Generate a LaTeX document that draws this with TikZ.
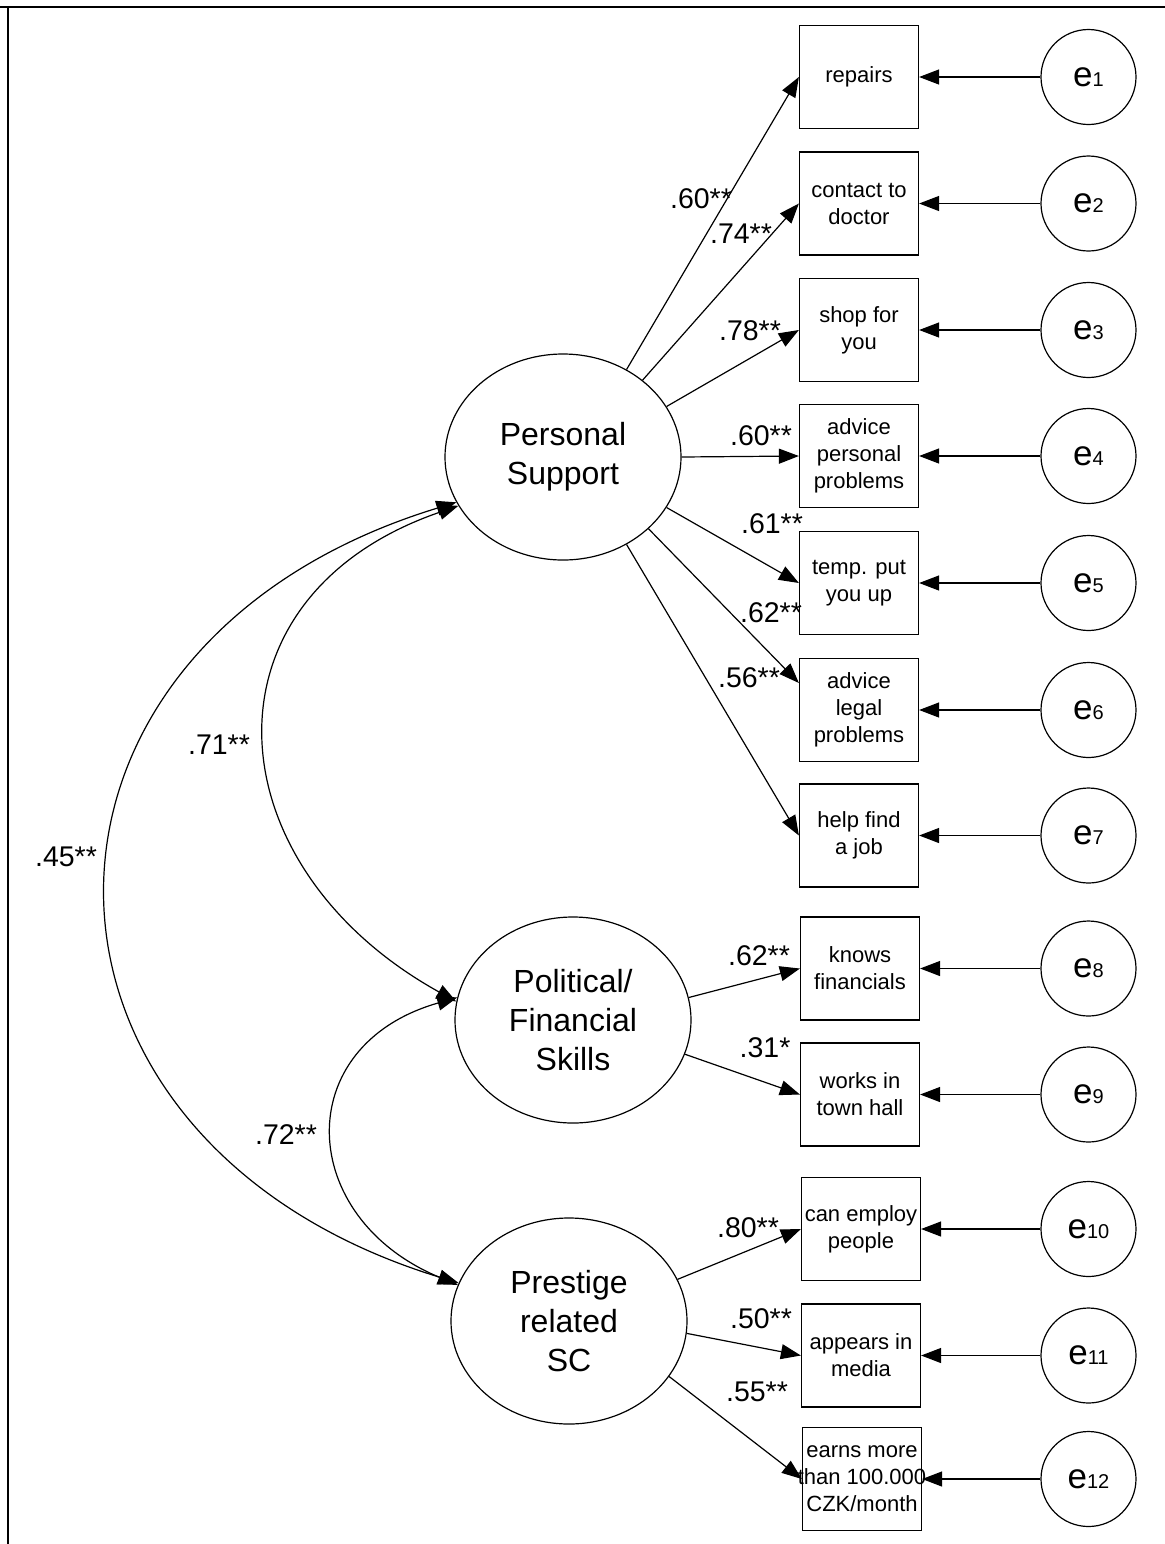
\documentclass[tikz,border=0pt]{standalone}
\usepackage{fontspec}
\setmainfont{Liberation Sans}
\usetikzlibrary{arrows.meta,shapes.geometric}
\newcommand{\errlabel}[1]{{\fontsize{17.5}{17.5}\selectfont e}{\fontsize{10}{10}\selectfont #1}}
\begin{document}
\begin{tikzpicture}[x=0.5pt,y=-0.5pt,
  line width=0.6pt,
  latent/.style={draw, ellipse, minimum width=118pt, minimum height=103pt, inner sep=0pt,
    align=center, font=\fontsize{16}{19.5}\selectfont},
  indicator/.style={draw, rectangle, minimum width=59.5pt, minimum height=51.5pt, inner sep=0pt,
    align=center, font=\fontsize{11}{13.5}\selectfont},
  errterm/.style={draw, circle, minimum size=47.5pt, inner sep=0pt},
  coef/.style={inner sep=0pt, font=\fontsize{14.25}{14.25}\selectfont},
  tip/.tip={Triangle[length=10pt,width=7.5pt]},
  load/.style={-tip},
  cov/.style={tip-tip},
]
\useasboundingbox (0,0) rectangle (1165,1544);

% frame
\draw[line width=1pt] (0,6.5) -- (1165,6.5);
\draw[line width=1pt] (8,6.5) -- (8,1544);

% latent factors
\node[latent] (ps) at (563,457)  {Personal\\Support};
\node[latent] (pf) at (573,1020) {Political/\\Financial\\Skills};
\node[latent] (pr) at (569,1321) {Prestige\\related\\SC};

% indicators
\node[indicator] (b1)  at (859,77)     {repairs};
\node[indicator] (b2)  at (859,203.5)  {contact to\\doctor};
\node[indicator] (b3)  at (859,330)    {shop for\\you};
\node[indicator] (b4)  at (859,456)    {advice\\personal\\problems};
\node[indicator] (b5)  at (859,583)    {temp. put\\you up};
\node[indicator] (b6)  at (859,710)    {advice\\legal\\problems};
\node[indicator] (b7)  at (859,835.5)  {help find\\a job};
\node[indicator] (b8)  at (860,968.5)  {knows\\financials};
\node[indicator] (b9)  at (860,1094.5) {works in\\town hall};
\node[indicator] (b10) at (861,1229)   {can employ\\people};
\node[indicator] (b11) at (861,1355.5) {appears in\\media};
\node[indicator] (b12) at (862,1479)   {earns more\\\makebox[0pt]{than 100.000}\\CZK/month};

% error terms
\foreach \i/\y in {1/77,2/203.5,3/330,4/456,5/583,6/710,7/835.5,8/968.5,9/1094.5,10/1229,11/1355.5,12/1479}{
  \node[errterm] (e\i) at (1088.5,\y) {\errlabel{\i}};
  \draw[load] (e\i.west) -- (b\i.east);
}

% loadings
\draw[load] (ps.54)  -- (b1.west);
\draw[load] (ps.44)  -- (b2.west);
\draw[load] (ps.26)  -- (b3.west);
\draw[load] (ps.0)   -- (b4.west);
\draw[load] (ps.-26) -- (b5.west);
\draw[load] (ps.-40) -- ([yshift=13.5pt]b6.west);
\draw[load] (ps.-54) -- (b7.west);
\draw[load] (pf.11)  -- (b8.west);
\draw[load] (pf.-17) -- (b9.west);
\draw[load] (pr.21)  -- (b10.west);
\draw[load] (pr.-6)  -- (b11.west);
\draw[load] (pr.-29) -- (b12.west);

% covariances
\draw[cov] (ps.203) .. controls +(-465.7,142.4) and +(-465.7,-142.4) .. (pr.161);
\draw[cov] (ps.205) .. controls +(-264.7,91.2) and +(-244.9,-135.7) .. (pf.171);
\draw[cov] (pf.169) .. controls +(-168,48) and +(-161.5,-67) .. (pr.162);

% coefficients
\node[coef] (c1)  at (701,199)  {.60**};
\node[coef] (c2)  at (741,234)  {.74**};
\node[coef] (c3)  at (750,331)  {.78**};
\node[coef] (c4)  at (761,436)  {.60**};
\node[coef] (c5)  at (772,524)  {.61**};
\node[coef] (c6)  at (771,613)  {.62**};
\node[coef] (c7)  at (749,678)  {.56**};
\node[coef] (c8)  at (759,956)  {.62**};
\node[coef] (c9)  at (765,1048) {.31*};
\node[coef] (c10) at (748,1228) {.80**};
\node[coef] (c11) at (761,1319) {.50**};
\node[coef] (c12) at (757,1392) {.55**};
\node[coef] (c71) at (219,745)  {.71**};
\node[coef] (c45) at (66,857)   {.45**};
\node[coef] (c72) at (286,1135) {.72**};
\end{tikzpicture}
\end{document}
